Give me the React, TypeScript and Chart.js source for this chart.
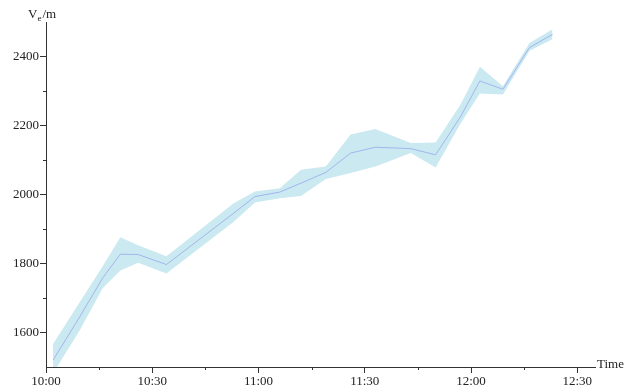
import { useEffect, useRef } from 'react';
import { Chart, registerables } from 'chart.js';

Chart.register(...registerables);

// minutes after 10:00
const times = [2, 9.5, 16, 21, 26, 34, 53, 59, 66, 72, 79, 86, 93, 103, 110, 117, 122.5, 129, 136.5, 143];
const meanValues = [1520, 1645, 1758, 1827, 1826, 1797, 1946, 1994, 2007, 2033, 2064, 2120, 2137, 2133, 2115, 2225, 2329, 2305, 2426, 2464];
const upperValues = [1567, 1688, 1792, 1876, 1853, 1821, 1975, 2009, 2018, 2072, 2081, 2174, 2190, 2149, 2151, 2260, 2370, 2314, 2439, 2479];
const lowerValues = [1482, 1606, 1728, 1780, 1802, 1771, 1921, 1977, 1989, 1996, 2045, 2062, 2081, 2120, 2078, 2205, 2293, 2290, 2417, 2450];

const xTickMinutes = [0, 30, 60, 90, 120, 150];
const xTickLabels = ['10:00', '10:30', '11:00', '11:30', '12:00', '12:30'];
const xMinorTicks = [15, 45, 75, 105, 135];
const yTicks = [1600, 1800, 2000, 2200, 2400];
const yMinorTicks = [1700, 1900, 2100, 2300];

const FONT = "'Liberation Serif', 'DejaVu Serif', serif";
const AXIS = '#333333';

export default function App() {
  const ref = useRef<HTMLCanvasElement | null>(null);

  useEffect(() => {
    if (!ref.current) return;
    const toPts = (vals: number[]) => times.map((t, i) => ({ x: t, y: vals[i] }));

    const decor = {
      id: 'decor',
      afterDraw(chart: any) {
        const ctx = chart.ctx;
        const xs = chart.scales.x;
        const ys = chart.scales.y;
        const area = chart.chartArea;
        ctx.save();
        ctx.strokeStyle = AXIS;
        ctx.lineWidth = 1;
        ctx.beginPath();
        xMinorTicks.forEach((m) => {
          const px = Math.round(xs.getPixelForValue(m)) + 0.5;
          ctx.moveTo(px, area.bottom);
          ctx.lineTo(px, area.bottom + 3);
        });
        yMinorTicks.forEach((v) => {
          const py = Math.round(ys.getPixelForValue(v)) + 0.5;
          ctx.moveTo(area.left, py);
          ctx.lineTo(area.left - 3, py);
        });
        ctx.stroke();

        ctx.fillStyle = '#222';
        ctx.textBaseline = 'alphabetic';
        ctx.textAlign = 'left';
        // y axis title V_e/m
        ctx.font = `13px ${FONT}`;
        let x0 = 28;
        const base = 18;
        ctx.fillText('V', x0, base);
        x0 += ctx.measureText('V').width;
        ctx.font = `9px ${FONT}`;
        ctx.fillText('e', x0, base + 3);
        x0 += ctx.measureText('e').width + 1;
        ctx.font = `13px ${FONT}`;
        ctx.fillText('/m', x0, base);
        // x axis title
        ctx.textBaseline = 'middle';
        ctx.fillText('Time', area.right + 2, area.bottom - 2);
        ctx.restore();
      },
    };

    const chart = new Chart(ref.current, {
      type: 'line',
      data: {
        datasets: [
          {
            label: 'mean',
            data: toPts(meanValues),
            borderColor: '#a3b5ef',
            borderWidth: 1,
            pointRadius: 0,
            fill: false,
            tension: 0,
          },
          {
            label: 'lower',
            data: toPts(lowerValues),
            borderWidth: 0,
            borderColor: 'rgba(0,0,0,0)',
            pointRadius: 0,
            fill: false,
            tension: 0,
          },
          {
            label: 'upper',
            data: toPts(upperValues),
            borderWidth: 0,
            borderColor: 'rgba(0,0,0,0)',
            backgroundColor: '#cbe9f1',
            pointRadius: 0,
            fill: '-1',
            tension: 0,
          },
        ],
      },
      options: {
        responsive: false,
        animation: false,
        events: [],
        layout: { padding: { left: 0, top: 22, right: 42, bottom: 0 } },
        plugins: {
          legend: { display: false },
          tooltip: { enabled: false },
        },
        scales: {
          x: {
            type: 'linear',
            min: 0,
            max: 155,
            afterBuildTicks: (s: any) => {
              s.ticks = xTickMinutes.map((v) => ({ value: v }));
            },
            afterFit: (s: any) => {
              s.height = 20;
            },
            ticks: {
              callback: (v: any) => {
                const i = xTickMinutes.indexOf(Number(v));
                return i >= 0 ? xTickLabels[i] : '';
              },
              font: { family: FONT, size: 13 },
              color: '#222',
              padding: 1,
              maxRotation: 0,
              autoSkip: false,
            },
            grid: {
              display: true,
              drawOnChartArea: false,
              drawTicks: true,
              tickLength: 6,
              color: AXIS,
            },
            border: { display: true, color: AXIS, width: 1 },
          },
          y: {
            type: 'linear',
            min: 1500,
            max: 2500,
            afterBuildTicks: (s: any) => {
              s.ticks = yTicks.map((v) => ({ value: v }));
            },
            afterFit: (s: any) => {
              s.width = 46;
            },
            ticks: {
              callback: (v: any) => String(v),
              font: { family: FONT, size: 13 },
              color: '#222',
              padding: 1,
              autoSkip: false,
            },
            grid: {
              display: true,
              drawOnChartArea: false,
              drawTicks: true,
              tickLength: 6,
              color: AXIS,
            },
            border: { display: true, color: AXIS, width: 1 },
          },
        },
      },
      plugins: [decor],
    } as any);

    return () => chart.destroy();
  }, []);

  return (
    <div style={{ position: 'fixed', left: 0, top: 0, width: 637, height: 387, background: '#fff' }}>
      <canvas ref={ref} width={637} height={387} style={{ display: 'block' }} />
    </div>
  );
}
